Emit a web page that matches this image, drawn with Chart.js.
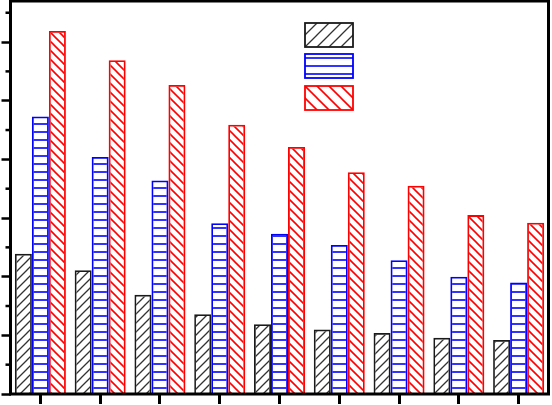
<!DOCTYPE html>
<html>
<head>
<meta charset="utf-8">
<script src="https://cdn.jsdelivr.net/npm/chart.js@4"></script>
<style>
html,body{margin:0;padding:0;background:#fff;}
#wrap{width:552px;height:405px;position:relative;}
</style>
</head>
<body>
<div id="wrap"><canvas id="c" width="552" height="405"></canvas></div>
<script>
const categories = ['1','2','3','4','5','6','7','8','9'];
const seriesBlack = [23.9, 21.1, 16.9, 13.6, 11.9, 11.0, 10.4, 9.6, 9.2];
const seriesBlue  = [47.3, 40.4, 36.4, 29.1, 27.3, 25.4, 22.8, 20.0, 19.0];
const seriesRed   = [61.9, 56.9, 52.7, 45.9, 42.1, 37.8, 35.5, 30.5, 29.2];
const yMajorTicks = [0, 10, 20, 30, 40, 50, 60];
const yMinorTicks = [5, 15, 25, 35, 45, 55, 65];

function hatch(kind, color, size, lw) {
  const c = document.createElement('canvas');
  c.width = size; c.height = size;
  const g = c.getContext('2d');
  g.strokeStyle = color; g.lineWidth = lw; g.lineCap = 'square';
  g.beginPath();
  if (kind === 'fwd') {           // "/"
    g.moveTo(0, size); g.lineTo(size, 0);
    g.moveTo(-size/2, size/2); g.lineTo(size/2, -size/2);
    g.moveTo(size/2, size*1.5); g.lineTo(size*1.5, size/2);
  } else if (kind === 'back') {   // "\"
    g.moveTo(0, 0); g.lineTo(size, size);
    g.moveTo(-size/2, size/2); g.lineTo(size/2, size*1.5);
    g.moveTo(size/2, -size/2); g.lineTo(size*1.5, size/2);
  } else {                        // horizontal
    g.moveTo(0, size/2); g.lineTo(size, size/2);
  }
  g.stroke();
  return document.getElementById('c').getContext('2d').createPattern(c, 'repeat');
}

const BLACK = '#1a1a1a', BLUE = '#0000ff', RED = '#ff0000';
const patBlack = hatch('fwd', '#333', 9, 1.3);
const patBlue = hatch('horiz', BLUE, 8, 1.6);
const patRed = hatch('back', RED, 9, 1.6);
const legBlack = hatch('fwd', '#333', 12, 1.3);
const legBlue = hatch('horiz', BLUE, 8, 1.6);
const legRed = hatch('back', RED, 12, 1.6);
const legendPats = [legBlack, legBlue, legRed];

const framePlugin = {
  id: 'frame',
  afterDraw(chart) {
    const {ctx, chartArea: a, scales} = chart;
    const y = scales.y;
    ctx.save();
    ctx.strokeStyle = '#000'; ctx.lineWidth = 2.5;
    yMinorTicks.forEach(v => {
      const py = y.getPixelForValue(v);
      ctx.beginPath(); ctx.moveTo(a.left - 5, py); ctx.lineTo(a.left, py); ctx.stroke();
    });
    ctx.lineWidth = 3;
    ctx.strokeRect(a.left, a.top, a.right - a.left, a.bottom - a.top);
    const lx = 305, ly = [23, 54, 86], w = 48, h = 24;
    chart.data.datasets.forEach((ds, i) => {
      ctx.fillStyle = '#fff';
      ctx.fillRect(lx, ly[i], w, h);
      ctx.save();
      ctx.translate(lx, ly[i]);
      ctx.fillStyle = legendPats[i];
      ctx.fillRect(0, 0, w, h);
      ctx.restore();
      ctx.strokeStyle = ds.borderColor; ctx.lineWidth = 1.8;
      ctx.strokeRect(lx, ly[i], w, h);
    });
    ctx.restore();
  }
};

new Chart(document.getElementById('c'), {
  type: 'bar',
  data: {
    labels: categories,
    datasets: [
      {data: seriesBlack, backgroundColor: patBlack, borderColor: BLACK, borderWidth: 1.7},
      {data: seriesBlue, backgroundColor: patBlue, borderColor: BLUE, borderWidth: 1.8},
      {data: seriesRed, backgroundColor: patRed, borderColor: RED, borderWidth: 1.8}
    ]
  },
  options: {
    responsive: false,
    animation: false,
    devicePixelRatio: 1,
    layout: {padding: {left: 0, right: 3.5, top: 1, bottom: 0}},
    plugins: {legend: {display: false}, tooltip: {enabled: false}},
    datasets: {bar: {categoryPercentage: 0.853, barPercentage: 1.0}},
    scales: {
      x: {
        grid: {drawOnChartArea: false, drawTicks: true, tickLength: 10, tickWidth: 3, tickColor: '#000', offset: false},
        border: {display: false},
        ticks: {display: false},
        afterFit: s => { s.height = 11; }
      },
      y: {
        min: 0, max: 67,
        afterBuildTicks: s => { s.ticks = yMajorTicks.map(v => ({value: v})); },
        grid: {drawOnChartArea: false, drawTicks: true, tickLength: 9, tickWidth: 2.5, tickColor: '#000'},
        border: {display: false},
        ticks: {display: false},
        afterFit: s => { s.width = 10.5; }
      }
    }
  },
  plugins: [framePlugin]
});
</script>
</body>
</html>
